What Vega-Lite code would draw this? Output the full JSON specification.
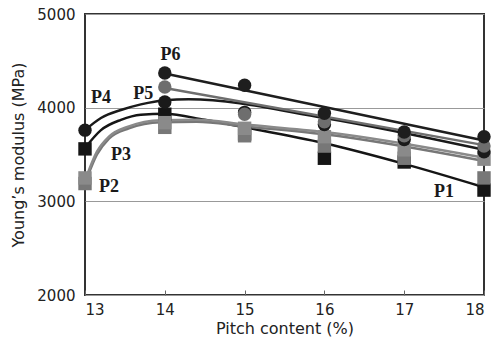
{
  "$schema": "https://vega.github.io/schema/vega-lite/v6.json",
  "width": 399,
  "height": 281,
  "autosize": "none",
  "padding": {"left": 85, "top": 14, "right": 11, "bottom": 53},
  "background": "white",
  "config": {
    "view": {"stroke": "#333", "strokeWidth": 2},
    "axis": {"domain": false, "labelFont": "DejaVu Sans", "titleFont": "DejaVu Sans", "labelColor": "#222", "titleColor": "#222", "titleFontWeight": "normal"}
  },
  "datasets": {
    "fits": [
      {"series": "P1", "pitch": 13, "modulus": 3570},
      {"series": "P1", "pitch": 13.2, "modulus": 3760},
      {"series": "P1", "pitch": 13.45, "modulus": 3870},
      {"series": "P1", "pitch": 13.7, "modulus": 3925},
      {"series": "P1", "pitch": 14, "modulus": 3935},
      {"series": "P1", "pitch": 14.5, "modulus": 3870},
      {"series": "P1", "pitch": 15, "modulus": 3790},
      {"series": "P1", "pitch": 16, "modulus": 3620},
      {"series": "P1", "pitch": 17, "modulus": 3400},
      {"series": "P1", "pitch": 18, "modulus": 3150},
      {"series": "P2", "pitch": 13, "modulus": 3190},
      {"series": "P2", "pitch": 13.15, "modulus": 3500},
      {"series": "P2", "pitch": 13.3, "modulus": 3670},
      {"series": "P2", "pitch": 13.55, "modulus": 3780},
      {"series": "P2", "pitch": 13.95, "modulus": 3845},
      {"series": "P2", "pitch": 14.4, "modulus": 3850},
      {"series": "P2", "pitch": 15, "modulus": 3800},
      {"series": "P2", "pitch": 16, "modulus": 3715},
      {"series": "P2", "pitch": 18, "modulus": 3430},
      {"series": "P3", "pitch": 13, "modulus": 3220},
      {"series": "P3", "pitch": 13.15, "modulus": 3530},
      {"series": "P3", "pitch": 13.3, "modulus": 3690},
      {"series": "P3", "pitch": 13.55, "modulus": 3800},
      {"series": "P3", "pitch": 13.95, "modulus": 3865},
      {"series": "P3", "pitch": 14.4, "modulus": 3870},
      {"series": "P3", "pitch": 15, "modulus": 3820},
      {"series": "P3", "pitch": 16, "modulus": 3740},
      {"series": "P3", "pitch": 18, "modulus": 3465},
      {"series": "P4", "pitch": 13, "modulus": 3760},
      {"series": "P4", "pitch": 13.2, "modulus": 3890},
      {"series": "P4", "pitch": 13.45, "modulus": 3975},
      {"series": "P4", "pitch": 13.7, "modulus": 4035},
      {"series": "P4", "pitch": 14, "modulus": 4080},
      {"series": "P4", "pitch": 14.3, "modulus": 4090},
      {"series": "P4", "pitch": 16, "modulus": 3890},
      {"series": "P4", "pitch": 18, "modulus": 3550},
      {"series": "P5", "pitch": 14, "modulus": 4210},
      {"series": "P5", "pitch": 18, "modulus": 3600},
      {"series": "P6", "pitch": 14, "modulus": 4365},
      {"series": "P6", "pitch": 18, "modulus": 3650}
    ],
    "points": [
      {"series": "P1", "pitch": 13, "modulus": 3560},
      {"series": "P1", "pitch": 14, "modulus": 3930},
      {"series": "P1", "pitch": 15, "modulus": 3720},
      {"series": "P1", "pitch": 16, "modulus": 3460},
      {"series": "P1", "pitch": 17, "modulus": 3420},
      {"series": "P1", "pitch": 18, "modulus": 3120},
      {"series": "P2", "pitch": 13, "modulus": 3190},
      {"series": "P2", "pitch": 14, "modulus": 3790},
      {"series": "P2", "pitch": 15, "modulus": 3700},
      {"series": "P2", "pitch": 16, "modulus": 3590},
      {"series": "P2", "pitch": 17, "modulus": 3460},
      {"series": "P2", "pitch": 18, "modulus": 3250},
      {"series": "P3", "pitch": 13, "modulus": 3250},
      {"series": "P3", "pitch": 14, "modulus": 3840},
      {"series": "P3", "pitch": 15, "modulus": 3780},
      {"series": "P3", "pitch": 16, "modulus": 3690},
      {"series": "P3", "pitch": 17, "modulus": 3550},
      {"series": "P3", "pitch": 18, "modulus": 3450},
      {"series": "P4", "pitch": 13, "modulus": 3760},
      {"series": "P4", "pitch": 14, "modulus": 4060},
      {"series": "P4", "pitch": 15, "modulus": 3950},
      {"series": "P4", "pitch": 16, "modulus": 3820},
      {"series": "P4", "pitch": 17, "modulus": 3660},
      {"series": "P4", "pitch": 18, "modulus": 3530},
      {"series": "P5", "pitch": 14, "modulus": 4220},
      {"series": "P5", "pitch": 15, "modulus": 3930},
      {"series": "P5", "pitch": 16, "modulus": 3850},
      {"series": "P5", "pitch": 17, "modulus": 3700},
      {"series": "P5", "pitch": 18, "modulus": 3590},
      {"series": "P6", "pitch": 14, "modulus": 4370},
      {"series": "P6", "pitch": 15, "modulus": 4240},
      {"series": "P6", "pitch": 16, "modulus": 3940},
      {"series": "P6", "pitch": 17, "modulus": 3740},
      {"series": "P6", "pitch": 18, "modulus": 3690}
    ],
    "labels": [
      {"series": "P1", "pitch": 17.5, "modulus": 3100},
      {"series": "P2", "pitch": 13.3, "modulus": 3150},
      {"series": "P3", "pitch": 13.45, "modulus": 3490},
      {"series": "P4", "pitch": 13.2, "modulus": 4100},
      {"series": "P5", "pitch": 13.73, "modulus": 4150},
      {"series": "P6", "pitch": 14.07, "modulus": 4560}
    ]
  },
  "layer": [
    {
      "data": {"name": "fits"},
      "mark": {"type": "line", "interpolate": "monotone", "strokeWidth": 2.5},
      "encoding": {
        "x": {"field": "pitch", "type": "quantitative", "scale": {"domain": [13, 18], "nice": false, "zero": false},
          "axis": {"values": [13, 14, 15, 16, 17, 18], "format": "d", "grid": false, "tickSize": -5, "tickWidth": 1, "tickColor": "#666", "labelFontSize": 15, "labelPadding": 12, "title": "Pitch content (%)", "titleFontSize": 16, "titlePadding": 3}},
        "y": {"field": "modulus", "type": "quantitative", "scale": {"domain": [2000, 5000], "nice": false, "zero": false},
          "axis": {"values": [2000, 3000, 4000, 5000], "format": "d", "grid": true, "gridColor": "#999", "gridWidth": 1, "ticks": false, "labelFontSize": 15, "labelPadding": 10, "title": "Young’s modulus (MPa)", "titleFontSize": 16, "titlePadding": 10}},
        "color": {"field": "series", "type": "nominal", "legend": null,
          "scale": {"domain": ["P1", "P2", "P3", "P4", "P5", "P6"], "range": ["#151515", "#777777", "#8a8a8a", "#1a1a1a", "#6e6e6e", "#1e1e1e"]}},
        "detail": {"field": "series"}
      }
    },
    {
      "data": {"name": "points"},
      "mark": {"type": "point", "filled": true, "opacity": 1, "size": 180},
      "encoding": {
        "x": {"field": "pitch", "type": "quantitative"},
        "y": {"field": "modulus", "type": "quantitative"},
        "shape": {"field": "series", "type": "nominal", "legend": null,
          "scale": {"domain": ["P1", "P2", "P3", "P4", "P5", "P6"], "range": ["square", "square", "square", "circle", "circle", "circle"]}},
        "color": {"field": "series", "type": "nominal", "legend": null,
          "scale": {"domain": ["P1", "P2", "P3", "P4", "P5", "P6"], "range": ["#151515", "#6f6f6f", "#858585", "#2a2a2a", "#6a6a6a", "#262626"]}}
      }
    },
    {
      "data": {"name": "labels"},
      "mark": {"type": "text", "font": "Liberation Serif", "fontWeight": "bold", "fontSize": 18, "color": "#1a1a1a"},
      "encoding": {
        "x": {"field": "pitch", "type": "quantitative"},
        "y": {"field": "modulus", "type": "quantitative"},
        "text": {"field": "series"}
      }
    }
  ]
}
